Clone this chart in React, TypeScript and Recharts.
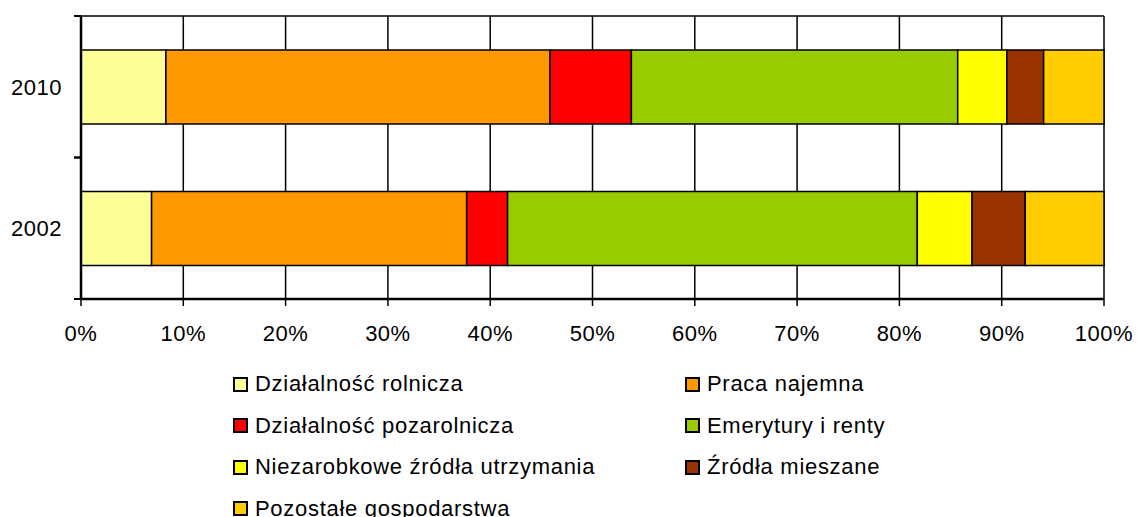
import React from "react";
import { BarChart, Bar, XAxis, YAxis, CartesianGrid, Legend } from "recharts";

// Lata (kategorie)
const years = ["2010", "2002"];

// Udział poszczególnych źródeł utrzymania (%)
const dzialalnoscRolnicza = [8.3, 6.9];
const pracaNajemna = [37.55, 30.8];
const dzialalnoscPozarolnicza = [7.95, 4.0];
const emerytury = [31.9, 40.05];
const niezarobkowe = [4.8, 5.35];
const mieszane = [3.6, 5.2];
const pozostale = [5.9, 7.7];

const xTicks = [0, 10, 20, 30, 40, 50, 60, 70, 80, 90, 100];

const series = [
  { key: "rol", name: "Działalność rolnicza", color: "#FFFF99", values: dzialalnoscRolnicza },
  { key: "naj", name: "Praca najemna", color: "#FF9900", values: pracaNajemna },
  { key: "poz", name: "Działalność pozarolnicza", color: "#FF0000", values: dzialalnoscPozarolnicza },
  { key: "eme", name: "Emerytury i renty", color: "#99CC00", values: emerytury },
  { key: "nie", name: "Niezarobkowe źródła utrzymania", color: "#FFFF00", values: niezarobkowe },
  { key: "mie", name: "Źródła mieszane", color: "#993300", values: mieszane },
  { key: "pzo", name: "Pozostałe gospodarstwa", color: "#FFCC00", values: pozostale },
];

const data = years.map((year, i) => {
  const row: Record<string, string | number> = { year };
  series.forEach((s) => (row[s.key] = s.values[i]));
  return row;
});

const FONT = "'Liberation Sans', Arial, Helvetica, sans-serif";
const WIDTH = 1137;
const HEIGHT = 517;
const TOP = 16;
const PLOT_LEFT = 81;
const AXIS_H = 40;
const LEGEND_H = 178;
const PLOT_H = HEIGHT - TOP - AXIS_H - LEGEND_H;
const BAND = PLOT_H / years.length;

const YearTick = (props: any) => {
  const { y, payload } = props;
  return (
    <g>
      <line x1={PLOT_LEFT - 7} x2={PLOT_LEFT} y1={y - BAND / 2} y2={y - BAND / 2} stroke="#000" strokeWidth={2} />
      <line x1={PLOT_LEFT - 7} x2={PLOT_LEFT} y1={y + BAND / 2} y2={y + BAND / 2} stroke="#000" strokeWidth={2} />
      <text
        x={62}
        y={y}
        dy="0.36em"
        textAnchor="end"
        fontSize={22}
        letterSpacing={0.5}
        fill="#000"
        fontFamily={FONT}
      >
        {payload.value}
      </text>
    </g>
  );
};

const LegendBox = () => {
  const cols = [233, 685];
  return (
    <div style={{ position: "relative", width: WIDTH, height: LEGEND_H, fontFamily: FONT }}>
      {series.map((s, i) => {
        const col = i % 2;
        const row = Math.floor(i / 2);
        return (
          <div
            key={s.key}
            style={{
              position: "absolute",
              left: cols[col],
              top: 45 + row * 41.5 - 14,
              height: 28,
              display: "flex",
              alignItems: "center",
              whiteSpace: "nowrap",
            }}
          >
            <span
              style={{
                display: "inline-block",
                width: 11,
                height: 11,
                background: s.color,
                border: "2px solid #000",
                marginRight: 7,
              }}
            />
            <span style={{ fontSize: 22, letterSpacing: 0.7, color: "#000" }}>{s.name}</span>
          </div>
        );
      })}
    </div>
  );
};

const App = () => {
  return (
    <div style={{ position: "absolute", left: 0, top: 0, width: WIDTH, height: HEIGHT, background: "#fff" }}>
      <BarChart
        width={WIDTH}
        height={HEIGHT}
        data={data}
        layout="vertical"
        margin={{ top: TOP, right: 33, left: 0, bottom: 0 }}
      >
        <CartesianGrid
          stroke="#000"
          strokeWidth={1.5}
          horizontal={true}
          horizontalCoordinatesGenerator={({ offset }: any) => [offset.top]}
        />
        <XAxis
          type="number"
          domain={[0, 100]}
          ticks={xTicks}
          interval={0}
          height={AXIS_H}
          tickFormatter={(v) => `${v}%`}
          tickSize={7}
          tickMargin={19}
          axisLine={{ stroke: "#000", strokeWidth: 2.5 }}
          tickLine={{ stroke: "#000", strokeWidth: 1.5 }}
          tick={{ fontSize: 22, fill: "#000", fontFamily: FONT, letterSpacing: 0.5 }}
        />
        <YAxis
          type="category"
          dataKey="year"
          width={PLOT_LEFT}
          tickLine={false}
          axisLine={{ stroke: "#000", strokeWidth: 2.5 }}
          tick={<YearTick />}
        />
        <Legend verticalAlign="bottom" wrapperStyle={{ left: 0, bottom: 0, width: WIDTH }} content={<LegendBox />} />
        {series.map((s) => (
          <Bar
            key={s.key}
            dataKey={s.key}
            name={s.name}
            stackId="a"
            fill={s.color}
            stroke="#000"
            strokeWidth={1.5}
            barSize={74}
            isAnimationActive={false}
          />
        ))}
      </BarChart>
    </div>
  );
};

export default App;
